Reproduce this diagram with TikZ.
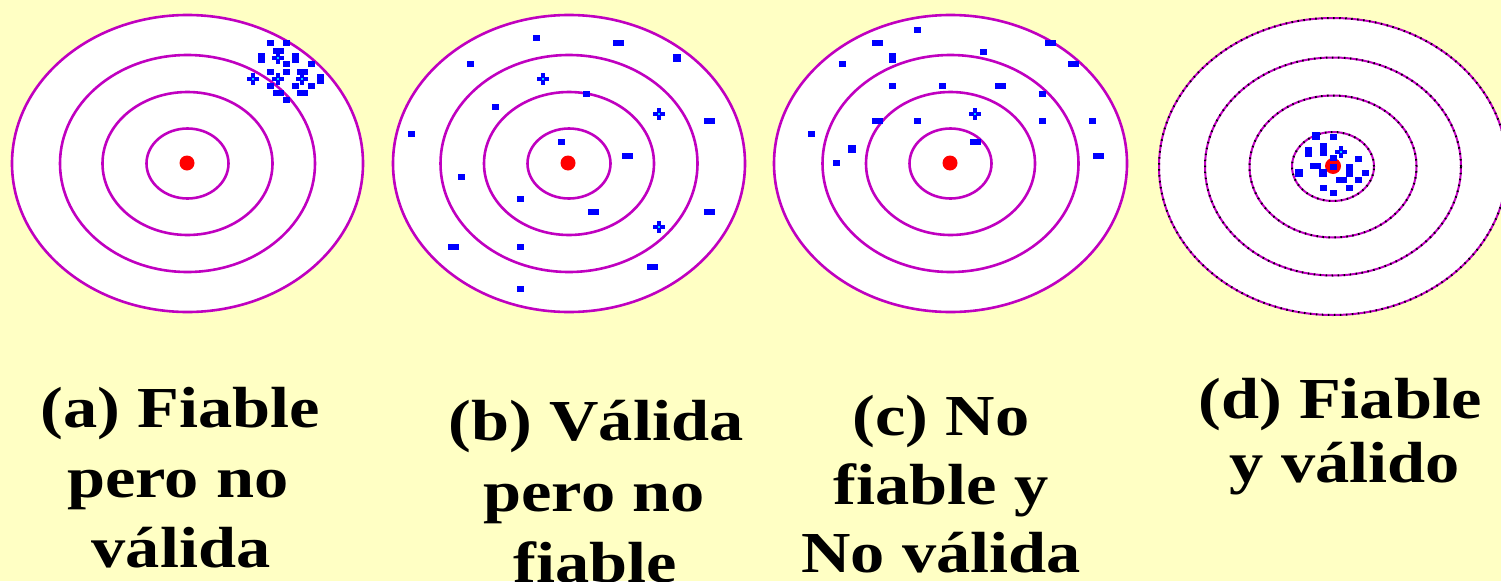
\documentclass[tikz,border=0pt]{standalone}
\usepackage{fontspec}
\newfontfamily\lblfont[FakeStretch=1.18]{Liberation Serif}
\definecolor{bgyellow}{RGB}{255,255,196}
\definecolor{ringmag}{RGB}{192,0,192}
\definecolor{dotblue}{RGB}{0,0,255}
\definecolor{dotred}{RGB}{255,0,0}
\definecolor{dotcyan}{RGB}{0,220,255}
\newcommand\sqd[2]{\fill[dotb] (#1,#2) ++(-3,-3) rectangle ++(6.5,6);}
\newcommand\wqd[2]{\fill[dotb] (#1,#2) ++(-5,-3) rectangle ++(10.5,6);}
\newcommand\tqd[2]{\fill[dotb] (#1,#2) ++(-3,-5) rectangle ++(6.5,10);}
\newcommand\bqd[2]{\fill[dotb] (#1,#2) ++(-4,-4) rectangle ++(8,8);}
\newcommand\lqd[2]{\fill[dotb] (#1,#2) ++(-3,-6.5) rectangle ++(6.5,13);}
\newcommand\pqd[2]{\fill[dotb] (#1,#2) ++(-6,-1.7) rectangle ++(12,3.4);
  \fill[dotb] (#1,#2) ++(-1.7,-6) rectangle ++(3.4,12);
  \fill[dotcyan] (#1,#2) ++(-1.3,-1.3) rectangle ++(2.6,2.6);}
\begin{document}
\begin{tikzpicture}[x=1pt,y=-1pt,
  ring/.style={draw=ringmag, line width=2.6pt},
  ringd/.style={draw=ringmag, line width=2pt},
  ringdots/.style={draw=black, line width=2pt, dash pattern=on 1.5pt off 4.5pt},
  dotb/.style={fill=dotblue},
  bull/.style={fill=dotred},
  lbl/.style={font=\lblfont\bfseries\fontsize{58}{70}\selectfont, anchor=base, inner sep=0pt, text=black}]
\fill[bgyellow] (0,0) rectangle (1501,581);
\useasboundingbox (0,0) rectangle (1501,581);

% ---------- (a)
\fill[white] (187.5,163.5) ellipse [x radius=175.5pt, y radius=148.5pt];
\foreach \rx/\ry in {175.5/148.5,127.5/108.5,85/71.5,41/35}
  \draw[ring] (187.5,163.5) ellipse [x radius=\rx pt, y radius=\ry pt];
\fill[bull] (187,163) circle [radius=7.5pt];
\sqd{270}{43}\sqd{286}{43}\wqd{278}{51}\pqd{278}{58}\tqd{261}{58}\tqd{295}{58}
\sqd{286}{64}\sqd{311}{64}\sqd{270}{72}\sqd{286}{72}\wqd{302}{72}
\pqd{302}{79}\pqd{278}{79}\pqd{253}{79}\tqd{320}{79}
\sqd{270}{86}\sqd{295}{86}\sqd{311}{86}\wqd{278}{93}\wqd{302}{93}\sqd{286}{100}

% ---------- (b)
\fill[white] (569,163.5) ellipse [x radius=176pt, y radius=148.5pt];
\foreach \rx/\ry in {176/148.5,128.5/108.5,85/71.5,41.5/35}
  \draw[ring] (569,163.5) ellipse [x radius=\rx pt, y radius=\ry pt];
\fill[bull] (568,163) circle [radius=7.5pt];
\sqd{536}{38}\wqd{618}{43}\bqd{677}{58}\sqd{470}{64}\pqd{543}{79}\sqd{586}{94}
\sqd{495}{107}\pqd{659}{114}\wqd{709}{121}\sqd{411}{134}\sqd{561}{142}
\wqd{627}{156}\sqd{461}{177}\sqd{520}{199}\wqd{593}{212}\wqd{709}{212}
\pqd{659}{227}\wqd{453}{247}\sqd{520}{247}\wqd{652}{267}\sqd{520}{289}

% ---------- (c)
\fill[white] (950.5,163.5) ellipse [x radius=176.5pt, y radius=148.5pt];
\foreach \rx/\ry in {176.5/148.5,128/108.5,84.5/71.5,41/35}
  \draw[ring] (950.5,163.5) ellipse [x radius=\rx pt, y radius=\ry pt];
\fill[bull] (950,163) circle [radius=7.5pt];
\sqd{917}{30}\wqd{877}{43}\wqd{1050}{43}\sqd{983}{52}\tqd{892}{58}\sqd{842}{64}
\wqd{1073}{64}\sqd{892}{86}\sqd{942}{86}\wqd{1000}{86}\sqd{1042}{94}
\pqd{975}{114}\wqd{877}{121}\sqd{917}{121}\sqd{1042}{121}\sqd{1092}{121}
\sqd{811}{134}\wqd{975}{142}\bqd{852}{149}\wqd{1098}{156}\sqd{836}{163}

% ---------- (d)
\fill[white] (1333,166.5) ellipse [x radius=174pt, y radius=148.5pt];
\foreach \rx/\ry in {174/148.5,128/109,83.5/71,41/34.5}{
  \draw[ringd] (1333,166.5) ellipse [x radius=\rx pt, y radius=\ry pt];
  \draw[ringdots] (1333,166.5) ellipse [x radius=\rx pt, y radius=\ry pt];}
\fill[bull] (1333,166) circle [radius=8pt];
\bqd{1316}{136}\sqd{1333}{137}\tqd{1308}{152}\lqd{1323}{149}\pqd{1341}{152}
\sqd{1358}{159}\wqd{1315}{166}\sqd{1333}{158}\sqd{1333}{167}
\bqd{1299}{173}\bqd{1323}{173}\lqd{1349}{170}\sqd{1365}{173}
\wqd{1341}{180}\sqd{1358}{180}\sqd{1323}{188}\sqd{1349}{188}\sqd{1333}{193}

% ---------- labels
\node[lbl] (a1) at (180,427) {(a) Fiable};
\node[lbl] (a2) at (178,497) {pero no};
\node[lbl] (a3) at (181,567) {válida};
\node[lbl] (b1) at (596,440) {(b) Válida};
\node[lbl] (b2) at (594,511) {pero no};
\node[lbl] (b3) at (595,582) {fiable};
\node[lbl] (c1) at (941,435) {(c) No};
\node[lbl] (c2) at (941,504) {fiable y};
\node[lbl] (c3) at (941,572) {No válida};
\node[lbl] (d1) at (1340,418) {(d) Fiable};
\node[lbl] (d2) at (1345,482) {y válido};
\end{tikzpicture}
\end{document}
